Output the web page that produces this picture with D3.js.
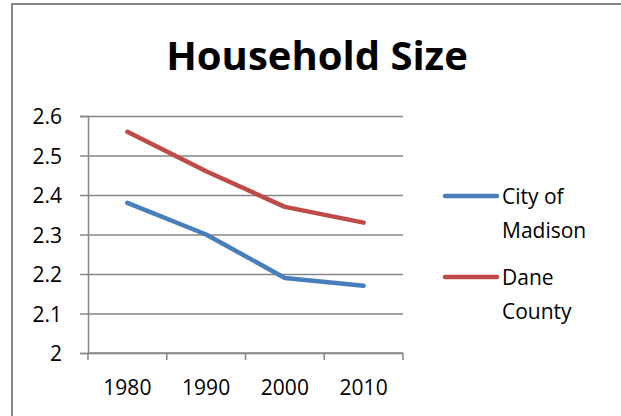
<!DOCTYPE html>
<html>
<head>
<meta charset="utf-8">
<script src="https://cdn.jsdelivr.net/npm/d3@7"></script>
<style>
  body { margin: 0; background: #fff; }
  text { font-family: "Open Sans", "Noto Sans", sans-serif; fill: #000; }
</style>
</head>
<body>
<div id="chart"></div>
<script>
// data
const years = ["1980", "1990", "2000", "2010"];
const madison = [2.38, 2.30, 2.19, 2.17];
const dane = [2.56, 2.46, 2.37, 2.33];
const yTicks = [2, 2.1, 2.2, 2.3, 2.4, 2.5, 2.6];
const seriesNames = [["City of", "Madison"], ["Dane", "County"]];
const colors = ["#4a7ebb", "#be4b48"];
const gridColor = "#868686";

const width = 621, height = 416;
const margin = {top: 116, left: 88, right: 218, bottom: 63};

let svg = d3.select("#chart").append("svg")
    .attr("width", width)
    .attr("height", height);

// outer chart frame (runs off the right/bottom of the picture)
svg.append("rect")
    .attr("x", 12)
    .attr("y", 4)
    .attr("width", 700)
    .attr("height", 500)
    .attr("fill", "none")
    .attr("stroke", gridColor)
    .attr("stroke-width", 2);

svg.append("text")
    .attr("x", 317)
    .attr("y", 70)
    .attr("text-anchor", "middle")
    .attr("font-weight", "bold")
    .attr("font-size", "40px")
    .text("Household Size");

let x = d3.scaleBand()
    .domain(years)
    .range([margin.left, width - margin.right])
    .padding(0);

let y = d3.scaleLinear()
    .domain([2, 2.6])
    .range([height - margin.bottom, margin.top]);

// gridlines
svg.append("g")
    .attr("transform", `translate(${margin.left},0)`)
    .call(d3.axisLeft(y).tickValues(yTicks).tickSize(-(width - margin.right - margin.left)).tickFormat(""))
    .call(g => g.select(".domain").remove())
    .call(g => g.selectAll("line").attr("stroke", gridColor).attr("stroke-width", 1.5));

// y axis
svg.append("g")
    .attr("transform", `translate(${margin.left},0)`)
    .call(d3.axisLeft(y).tickValues(yTicks).tickSize(8).tickPadding(18).tickFormat(d => +d.toFixed(1)))
    .call(g => g.select(".domain").attr("stroke", gridColor).attr("stroke-width", 1.5))
    .call(g => g.selectAll("line").attr("stroke", gridColor).attr("stroke-width", 1.5))
    .call(g => g.selectAll("text").attr("font-size", "21px").attr("font-family", null).attr("dy", "0.36em"));

// x axis: ticks on category boundaries
let xAxis = svg.append("g");
let y0 = y(2);
xAxis.append("line")
    .attr("x1", x.range()[0]).attr("x2", x.range()[1])
    .attr("y1", y0).attr("y2", y0)
    .attr("stroke", gridColor).attr("stroke-width", 1.5);
xAxis.selectAll(".xtick")
    .data(years.map(d => x(d)).concat([x.range()[1]]))
    .join("line")
    .attr("class", "xtick")
    .attr("x1", d => d).attr("x2", d => d)
    .attr("y1", y0).attr("y2", y0 + 7)
    .attr("stroke", gridColor).attr("stroke-width", 1.5);
xAxis.selectAll(".xlabel")
    .data(years)
    .join("text")
    .attr("class", "xlabel")
    .attr("x", d => x(d) + x.bandwidth() / 2)
    .attr("y", 395)
    .attr("text-anchor", "middle")
    .attr("font-size", "21px")
    .text(d => d);

let line = d3.line()
    .x((d, i) => x(years[i]) + x.bandwidth() / 2)
    .y(d => y(d));

[madison, dane].forEach((s, i) => {
    svg.append("path")
        .datum(s)
        .attr("d", line)
        .attr("fill", "none")
        .attr("stroke", colors[i])
        .attr("stroke-width", 4.5)
        .attr("stroke-linecap", "round")
        .attr("stroke-linejoin", "round");
});

// legend
let legend = svg.append("g");
seriesNames.forEach((names, i) => {
    let ly = 196 + i * 81;
    legend.append("line")
        .attr("x1", 445).attr("x2", 497)
        .attr("y1", ly).attr("y2", ly)
        .attr("stroke", colors[i])
        .attr("stroke-width", 4.5)
        .attr("stroke-linecap", "round");
    names.forEach((n, j) => {
        legend.append("text")
            .attr("x", 502)
            .attr("y", ly + j * 34)
            .attr("dy", "0.36em")
            .attr("font-size", "21px")
            .text(n);
    });
});
</script>
</body>
</html>
